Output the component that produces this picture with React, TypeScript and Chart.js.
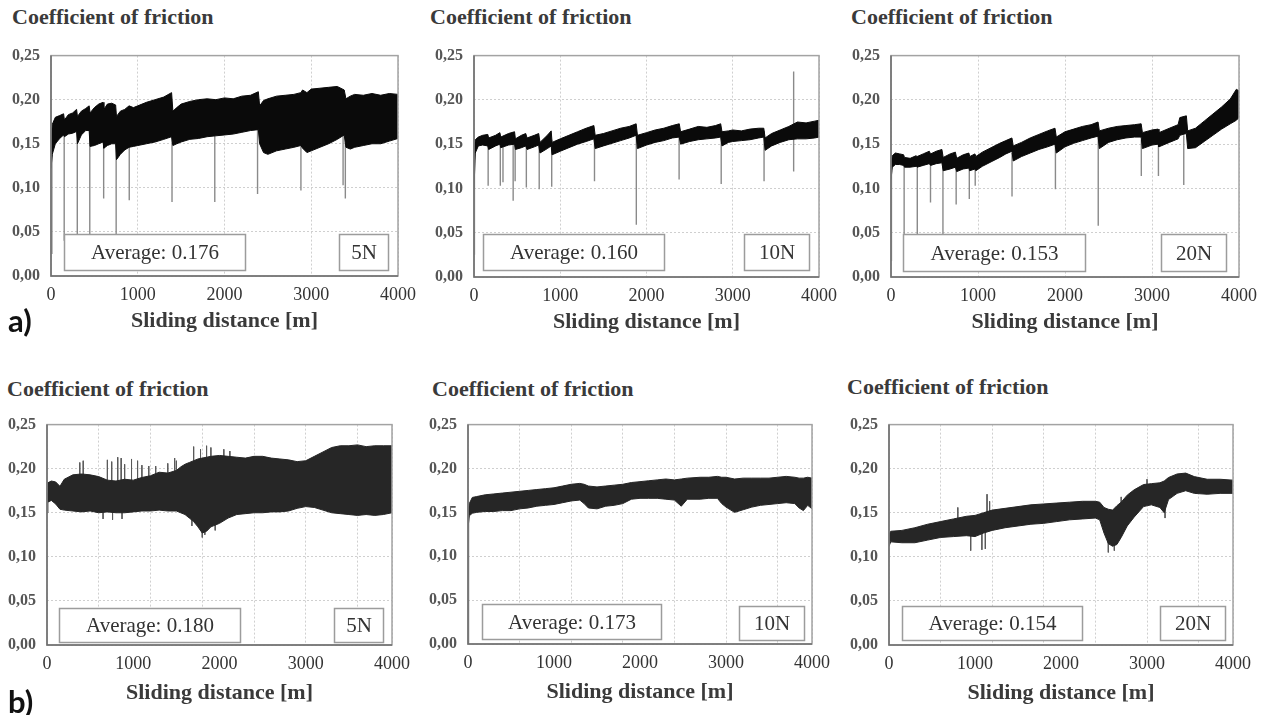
import React, { useEffect, useRef } from 'react';
import { Chart, registerables } from 'chart.js';
Chart.register(...registerables);

// ---------- shared axis content ----------
const X_TICKS = [0, 1000, 2000, 3000, 4000];
const X_GRID_TOP = [0, 1000, 2000, 3000, 4000];
const X_GRID_BOTTOM = [0, 600, 1200, 1800, 2400, 3000, 3600, 4000];
const Y_TICKS = [0, 0.05, 0.1, 0.15, 0.2, 0.25];
const Y_TICK_LABELS = ['0,00', '0,05', '0,10', '0,15', '0,20', '0,25'];
const Y_TITLE = 'Coefficient of friction';
const X_TITLE = 'Sliding distance [m]';
const LOADS = ['5N', '10N', '20N'];
const AVERAGES_A = ['0.176', '0.160', '0.153'];
const AVERAGES_B = ['0.180', '0.173', '0.154'];

// ---------- a) 5N ----------
const A5_X = [
  0, 15, 50, 100, 145, 155, 200, 250, 295, 305,
  350, 400, 440, 450, 500, 550, 600, 610, 650, 700,
  745, 755, 800, 850, 900, 950, 1000, 1100, 1200, 1300,
  1390, 1405, 1450, 1500, 1600, 1700, 1800, 1900, 2000, 2100,
  2200, 2300, 2390, 2405, 2450, 2500, 2600, 2700, 2800, 2880,
  2900, 2950, 3000, 3100, 3200, 3300, 3380, 3400, 3450, 3500,
  3600, 3700, 3800, 3900, 4000,
];
const A5_HI = [
  0.150, 0.172, 0.180, 0.182, 0.184, 0.177, 0.183, 0.185, 0.189, 0.181,
  0.187, 0.190, 0.193, 0.185, 0.191, 0.195, 0.197, 0.189, 0.195, 0.196,
  0.194, 0.181, 0.187, 0.189, 0.193, 0.191, 0.193, 0.197, 0.200, 0.203,
  0.208, 0.187, 0.191, 0.195, 0.198, 0.200, 0.201, 0.200, 0.202, 0.201,
  0.204, 0.205, 0.209, 0.193, 0.199, 0.201, 0.204, 0.205, 0.206, 0.208,
  0.211, 0.208, 0.212, 0.213, 0.214, 0.215, 0.211, 0.201, 0.204, 0.206,
  0.205, 0.207, 0.205, 0.207, 0.206,
];
const A5_LO = [
  0.122, 0.138, 0.150, 0.156, 0.160, 0.158, 0.161, 0.162, 0.164, 0.150,
  0.160, 0.165, 0.165, 0.147, 0.148, 0.150, 0.152, 0.145, 0.148, 0.150,
  0.150, 0.132, 0.138, 0.143, 0.146, 0.147, 0.148, 0.150, 0.152, 0.155,
  0.158, 0.148, 0.150, 0.152, 0.155, 0.156, 0.158, 0.159, 0.160, 0.161,
  0.163, 0.165, 0.166, 0.150, 0.140, 0.138, 0.142, 0.144, 0.146, 0.148,
  0.145, 0.140, 0.142, 0.146, 0.150, 0.155, 0.160, 0.146, 0.144, 0.146,
  0.148, 0.150, 0.150, 0.153, 0.156,
];
const A5_SPIKE_X = [10, 152, 303, 447, 607, 751, 902, 1395, 1888, 2381, 2881, 3367, 3393];
const A5_SPIKE_TOP = [0.15, 0.17, 0.17, 0.17, 0.16, 0.16, 0.16, 0.17, 0.17, 0.17, 0.17, 0.17, 0.17];
const A5_SPIKE_LOW = [0.025, 0.04, 0.04, 0.04, 0.088, 0.04, 0.086, 0.084, 0.084, 0.093, 0.097, 0.103, 0.088];

// ---------- a) 10N ----------
const A10_X = [
  0, 15, 50, 100, 160, 170, 250, 300, 310, 400,
  470, 480, 550, 600, 615, 700, 750, 765, 850, 895,
  905, 1000, 1100, 1200, 1300, 1390, 1405, 1500, 1600, 1700,
  1800, 1880, 1895, 2000, 2100, 2200, 2300, 2380, 2395, 2500,
  2600, 2700, 2800, 2860, 2875, 2950, 3000, 3100, 3200, 3300,
  3360, 3375, 3450, 3550, 3650, 3750, 3850, 3950, 4000,
];
const A10_HI = [
  0.140, 0.155, 0.158, 0.160, 0.161, 0.157, 0.160, 0.163, 0.158, 0.162,
  0.164, 0.156, 0.160, 0.162, 0.157, 0.160, 0.162, 0.152, 0.160, 0.165,
  0.152, 0.156, 0.160, 0.164, 0.168, 0.171, 0.160, 0.162, 0.165, 0.168,
  0.170, 0.173, 0.160, 0.163, 0.166, 0.168, 0.171, 0.173, 0.164, 0.167,
  0.170, 0.169, 0.171, 0.173, 0.164, 0.165, 0.166, 0.165, 0.167, 0.168,
  0.168, 0.157, 0.162, 0.166, 0.170, 0.175, 0.174, 0.176, 0.177,
];
const A10_LO = [
  0.100, 0.140, 0.148, 0.149, 0.148, 0.144, 0.148, 0.150, 0.146, 0.149,
  0.150, 0.144, 0.146, 0.148, 0.144, 0.147, 0.149, 0.140, 0.145, 0.148,
  0.138, 0.142, 0.146, 0.150, 0.153, 0.156, 0.145, 0.148, 0.151, 0.154,
  0.157, 0.160, 0.145, 0.149, 0.152, 0.154, 0.157, 0.158, 0.150, 0.153,
  0.155, 0.156, 0.157, 0.158, 0.148, 0.152, 0.153, 0.154, 0.155, 0.157,
  0.158, 0.143, 0.148, 0.152, 0.155, 0.156, 0.156, 0.157, 0.158,
];
const A10_SPIKE_X = [5, 164, 305, 336, 454, 477, 607, 756, 901, 1397, 1882, 2378, 2866, 3363, 3706];
const A10_SPIKE_TOP = [0.14, 0.155, 0.155, 0.155, 0.155, 0.155, 0.155, 0.155, 0.155, 0.16, 0.165, 0.165, 0.165, 0.165, 0.232];
const A10_SPIKE_LOW = [0.025, 0.103, 0.103, 0.107, 0.086, 0.108, 0.101, 0.099, 0.102, 0.108, 0.059, 0.11, 0.105, 0.108, 0.119];

// ---------- a) 20N ----------
const A20_X = [
  0, 15, 50, 100, 145, 155, 220, 290, 300, 370,
  440, 455, 520, 585, 600, 680, 740, 755, 830, 895,
  905, 965, 975, 1050, 1150, 1250, 1320, 1390, 1405, 1500,
  1600, 1700, 1800, 1885, 1900, 2000, 2100, 2200, 2300, 2380,
  2395, 2500, 2600, 2700, 2800, 2875, 2890, 3000, 3070, 3080,
  3200, 3300, 3320, 3395, 3410, 3500, 3600, 3700, 3800, 3900,
  3970, 4000,
];
const A20_HI = [
  0.125, 0.137, 0.140, 0.139, 0.138, 0.135, 0.134, 0.137, 0.136, 0.139,
  0.142, 0.139, 0.142, 0.144, 0.135, 0.139, 0.141, 0.134, 0.138, 0.140,
  0.136, 0.139, 0.136, 0.141, 0.146, 0.151, 0.154, 0.157, 0.148, 0.152,
  0.157, 0.161, 0.165, 0.168, 0.158, 0.164, 0.167, 0.170, 0.172, 0.175,
  0.165, 0.168, 0.170, 0.171, 0.172, 0.173, 0.163, 0.166, 0.167, 0.163,
  0.168, 0.172, 0.180, 0.182, 0.165, 0.168, 0.176, 0.184, 0.192, 0.201,
  0.212, 0.210,
];
const A20_LO = [
  0.110, 0.124, 0.127, 0.127, 0.126, 0.124, 0.124, 0.125, 0.124, 0.126,
  0.128, 0.126, 0.128, 0.129, 0.120, 0.122, 0.124, 0.119, 0.122, 0.123,
  0.120, 0.122, 0.120, 0.125, 0.130, 0.135, 0.139, 0.142, 0.131, 0.136,
  0.140, 0.144, 0.147, 0.150, 0.140, 0.147, 0.151, 0.154, 0.157, 0.159,
  0.145, 0.152, 0.155, 0.157, 0.158, 0.158, 0.145, 0.149, 0.150, 0.147,
  0.152, 0.156, 0.160, 0.162, 0.145, 0.146, 0.153, 0.160, 0.167, 0.173,
  0.177, 0.180,
];
const A20_SPIKE_X = [5, 151, 302, 454, 597, 749, 900, 968, 1391, 1890, 2382, 2877, 3074, 3365];
const A20_SPIKE_TOP = [0.12, 0.13, 0.13, 0.135, 0.135, 0.13, 0.13, 0.13, 0.14, 0.15, 0.16, 0.155, 0.155, 0.16];
const A20_SPIKE_LOW = [0.018, 0.04, 0.04, 0.084, 0.04, 0.082, 0.088, 0.103, 0.091, 0.099, 0.058, 0.114, 0.114, 0.104];

// ---------- b) 5N ----------
const B5_X = [
  0, 10, 50, 100, 150, 200, 300, 400, 500, 600,
  700, 800, 900, 1000, 1100, 1200, 1300, 1400, 1500, 1550,
  1600, 1650, 1700, 1750, 1800, 1850, 1900, 2000, 2100, 2200,
  2300, 2400, 2500, 2600, 2700, 2800, 2900, 3000, 3100, 3200,
  3300, 3400, 3500, 3600, 3700, 3800, 3900, 4000,
];
const B5_HI = [
  0.172, 0.184, 0.186, 0.185, 0.180, 0.188, 0.193, 0.194, 0.193, 0.191,
  0.187, 0.186, 0.188, 0.187, 0.190, 0.192, 0.196, 0.195, 0.198, 0.202,
  0.205, 0.207, 0.209, 0.211, 0.212, 0.213, 0.214, 0.215, 0.214, 0.213,
  0.212, 0.214, 0.214, 0.212, 0.211, 0.210, 0.208, 0.209, 0.214, 0.219,
  0.224, 0.226, 0.226, 0.227, 0.225, 0.226, 0.226, 0.226,
];
const B5_LO = [
  0.150, 0.162, 0.164, 0.160, 0.154, 0.153, 0.152, 0.151, 0.152, 0.150,
  0.151, 0.150, 0.150, 0.151, 0.152, 0.152, 0.153, 0.152, 0.152, 0.150,
  0.148, 0.144, 0.140, 0.134, 0.127, 0.129, 0.134, 0.138, 0.144, 0.148,
  0.149, 0.150, 0.150, 0.151, 0.151, 0.152, 0.155, 0.157, 0.156, 0.153,
  0.150, 0.149, 0.148, 0.147, 0.148, 0.147, 0.148, 0.150,
];
const B5_SPIKE_X = [380, 420, 650, 700, 750, 760, 820, 860, 870, 900, 980, 1050, 1100, 1180, 1260, 1400, 1480, 1500, 1680, 1700, 1780, 1800, 1830, 1850, 1900, 1950, 2050, 2120];
const B5_SPIKE_TOP = [0.207, 0.209, 0.17, 0.21, 0.208, 0.17, 0.213, 0.212, 0.17, 0.205, 0.211, 0.209, 0.204, 0.203, 0.203, 0.206, 0.212, 0.209, 0.17, 0.225, 0.222, 0.17, 0.17, 0.226, 0.224, 0.17, 0.222, 0.22];
const B5_SPIKE_LOW = [0.17, 0.17, 0.143, 0.17, 0.17, 0.142, 0.17, 0.17, 0.143, 0.17, 0.17, 0.17, 0.17, 0.17, 0.17, 0.17, 0.17, 0.17, 0.135, 0.17, 0.17, 0.122, 0.125, 0.17, 0.17, 0.13, 0.17, 0.17];

// ---------- b) 10N ----------
const B10_X = [
  0, 15, 50, 100, 200, 300, 400, 500, 600, 700,
  800, 900, 1000, 1100, 1200, 1300, 1350, 1400, 1500, 1600,
  1700, 1800, 1900, 2000, 2100, 2200, 2300, 2400, 2480, 2550,
  2700, 2800, 2900, 2950, 3000, 3100, 3200, 3300, 3400, 3500,
  3600, 3700, 3800, 3850, 3900, 3950, 4000,
];
const B10_HI = [
  0.145, 0.160, 0.167, 0.168, 0.170, 0.171, 0.172, 0.173, 0.174, 0.175,
  0.176, 0.177, 0.178, 0.180, 0.182, 0.183, 0.182, 0.180, 0.179, 0.180,
  0.181, 0.182, 0.184, 0.185, 0.186, 0.187, 0.188, 0.187, 0.188, 0.189,
  0.190, 0.190, 0.191, 0.190, 0.190, 0.188, 0.189, 0.189, 0.189, 0.189,
  0.190, 0.191, 0.190, 0.189, 0.189, 0.190, 0.189,
];
const B10_LO = [
  0.132, 0.146, 0.149, 0.150, 0.151, 0.151, 0.152, 0.152, 0.154, 0.155,
  0.157, 0.158, 0.159, 0.161, 0.163, 0.164, 0.160, 0.155, 0.154, 0.157,
  0.158, 0.160, 0.165, 0.166, 0.166, 0.166, 0.165, 0.164, 0.157, 0.165,
  0.165, 0.166, 0.166, 0.160, 0.156, 0.150, 0.153, 0.156, 0.158, 0.159,
  0.160, 0.161, 0.160, 0.155, 0.152, 0.158, 0.154,
];
const B10_SPIKE_X = [5];
const B10_SPIKE_TOP = [0.15];
const B10_SPIKE_LOW = [0.0];

// ---------- b) 20N ----------
const B20_X = [
  0, 20, 150, 300, 450, 600, 750, 900, 1000, 1100,
  1200, 1350, 1500, 1650, 1800, 1950, 2100, 2250, 2400, 2450,
  2500, 2550, 2600, 2650, 2700, 2770, 2850, 2960, 3050, 3150,
  3200, 3250, 3350, 3450, 3550, 3700, 3850, 4000,
];
const B20_HI = [
  0.125, 0.129, 0.130, 0.133, 0.137, 0.140, 0.143, 0.146, 0.147, 0.150,
  0.153, 0.155, 0.157, 0.159, 0.160, 0.161, 0.162, 0.163, 0.163, 0.162,
  0.156, 0.154, 0.153, 0.158, 0.162, 0.170, 0.176, 0.182, 0.183, 0.184,
  0.186, 0.190, 0.194, 0.195, 0.191, 0.188, 0.188, 0.187,
];
const B20_LO = [
  0.112, 0.117, 0.116, 0.116, 0.119, 0.122, 0.123, 0.124, 0.123, 0.127,
  0.130, 0.133, 0.135, 0.137, 0.138, 0.140, 0.142, 0.143, 0.144, 0.142,
  0.127, 0.115, 0.112, 0.114, 0.122, 0.135, 0.145, 0.157, 0.159, 0.156,
  0.150, 0.165, 0.172, 0.175, 0.172, 0.171, 0.172, 0.172,
];
const B20_SPIKE_X = [800, 950, 1080, 1120, 1140, 1170, 2550, 2620, 2700, 3000, 3210];
const B20_SPIKE_TOP = [0.156, 0.125, 0.13, 0.13, 0.171, 0.163, 0.13, 0.13, 0.168, 0.188, 0.16];
const B20_SPIKE_LOW = [0.135, 0.107, 0.108, 0.109, 0.14, 0.14, 0.105, 0.107, 0.14, 0.17, 0.144];

// ---------- layout ----------
const W_Y = 50;
const PAD_T = 15;
const PAD_R = 22;
const SERIF = '"Liberation Serif", "Times New Roman", serif';

type Box = { x0: number; x1: number; y0: number; y1: number; text: string };
type PanelCfg = {
  plot: [number, number, number, number];
  title: [number, number];
  hx: number;
  x: number[]; hi: number[]; lo: number[];
  sx: number[]; st: number[]; sl: number[];
  band: string; spike: string; spikeW: number;
  grid: number[];
  boxes: Box[];
};

const PANELS: PanelCfg[] = [
  {
    plot: [51, 50, 402, 276], title: [12, 4], hx: 59,
    x: A5_X, hi: A5_HI, lo: A5_LO, sx: A5_SPIKE_X, st: A5_SPIKE_TOP, sl: A5_SPIKE_LOW,
    band: '#0a0a0a', spike: '#8a8a8a', spikeW: 1.4, grid: X_GRID_TOP,
    boxes: [
      { x0: 148, x1: 2234, y0: 0.0066, y1: 0.0476, text: 'Average: ' + AVERAGES_A[0] },
      { x0: 3316, x1: 3886, y0: 0.0066, y1: 0.0476, text: LOADS[0] },
    ],
  },
  {
    plot: [474, 50, 823, 277], title: [430, 4], hx: 59,
    x: A10_X, hi: A10_HI, lo: A10_LO, sx: A10_SPIKE_X, st: A10_SPIKE_TOP, sl: A10_SPIKE_LOW,
    band: '#0a0a0a', spike: '#8a8a8a', spikeW: 1.4, grid: X_GRID_TOP,
    boxes: [
      { x0: 103, x1: 2200, y0: 0.0077, y1: 0.0485, text: 'Average: ' + AVERAGES_A[1] },
      { x0: 3129, x1: 3885, y0: 0.0077, y1: 0.0485, text: LOADS[1] },
    ],
  },
  {
    plot: [891, 50, 1243, 277], title: [851, 4], hx: 59,
    x: A20_X, hi: A20_HI, lo: A20_LO, sx: A20_SPIKE_X, st: A20_SPIKE_TOP, sl: A20_SPIKE_LOW,
    band: '#0a0a0a', spike: '#8a8a8a', spikeW: 1.4, grid: X_GRID_TOP,
    boxes: [
      { x0: 136, x1: 2227, y0: 0.0066, y1: 0.0485, text: 'Average: ' + AVERAGES_A[2] },
      { x0: 3102, x1: 3852, y0: 0.0066, y1: 0.0485, text: LOADS[2] },
    ],
  },
  {
    plot: [47, 419, 396, 645], title: [7, 376], hx: 62,
    x: B5_X, hi: B5_HI, lo: B5_LO, sx: B5_SPIKE_X, st: B5_SPIKE_TOP, sl: B5_SPIKE_LOW,
    band: '#262626', spike: '#5a5a5a', spikeW: 1, grid: X_GRID_BOTTOM,
    boxes: [
      { x0: 138, x1: 2235, y0: 0.0033, y1: 0.042, text: 'Average: ' + AVERAGES_B[0] },
      { x0: 3324, x1: 3897, y0: 0.0033, y1: 0.042, text: LOADS[0] },
    ],
  },
  {
    plot: [468, 419, 816, 644], title: [432, 376], hx: 62,
    x: B10_X, hi: B10_HI, lo: B10_LO, sx: B10_SPIKE_X, st: B10_SPIKE_TOP, sl: B10_SPIKE_LOW,
    band: '#262626', spike: '#5a5a5a', spikeW: 1.5, grid: X_GRID_BOTTOM,
    boxes: [
      { x0: 161, x1: 2241, y0: 0.0055, y1: 0.0455, text: 'Average: ' + AVERAGES_B[1] },
      { x0: 3149, x1: 3908, y0: 0.0044, y1: 0.043, text: LOADS[1] },
    ],
  },
  {
    plot: [889, 419, 1237, 645], title: [847, 374], hx: 62,
    x: B20_X, hi: B20_HI, lo: B20_LO, sx: B20_SPIKE_X, st: B20_SPIKE_TOP, sl: B20_SPIKE_LOW,
    band: '#262626', spike: '#5a5a5a', spikeW: 1, grid: X_GRID_BOTTOM,
    boxes: [
      { x0: 149, x1: 2241, y0: 0.0055, y1: 0.0443, text: 'Average: ' + AVERAGES_B[2] },
      { x0: 3149, x1: 3908, y0: 0.0055, y1: 0.0443, text: LOADS[2] },
    ],
  },
];

const overlayPlugin = {
  id: 'overlay',
  afterDatasetsDraw(chart: any, _args: any, opts: any) {
    const { ctx, chartArea: a, scales } = chart;
    const xs = scales.x;
    const ys = scales.y;
    ctx.save();
    ctx.setLineDash([]);
    ctx.lineWidth = 1.5;
    ctx.strokeStyle = '#a3a3a3';
    ctx.strokeRect(a.left, a.top, a.right - a.left, a.bottom - a.top);
    ctx.strokeStyle = '#6e6e6e';
    ctx.beginPath();
    ctx.moveTo(a.left, a.top);
    ctx.lineTo(a.left, a.bottom);
    ctx.lineTo(a.right, a.bottom);
    ctx.stroke();
    const boxes: Box[] = opts.boxes || [];
    for (const b of boxes) {
      const x0 = Math.round(xs.getPixelForValue(b.x0)) + 0.5;
      const x1 = Math.round(xs.getPixelForValue(b.x1)) + 0.5;
      const y0 = Math.round(ys.getPixelForValue(b.y1)) + 0.5;
      const y1 = Math.round(ys.getPixelForValue(b.y0)) + 0.5;
      ctx.fillStyle = '#ffffff';
      ctx.fillRect(x0, y0, x1 - x0, y1 - y0);
      ctx.strokeStyle = '#9c9c9c';
      ctx.lineWidth = 1.5;
      ctx.strokeRect(x0, y0, x1 - x0, y1 - y0);
      ctx.fillStyle = '#333333';
      ctx.font = '21px ' + SERIF;
      ctx.textAlign = 'center';
      ctx.textBaseline = 'middle';
      ctx.fillText(b.text, (x0 + x1) / 2, (y0 + y1) / 2 + 1);
    }
    ctx.restore();
  },
};

function spikePoints(xs: number[], tops: number[], lows: number[]) {
  const pts: { x: number; y: number | null }[] = [];
  xs.forEach((x, i) => {
    pts.push({ x, y: tops[i] });
    pts.push({ x, y: lows[i] });
    pts.push({ x, y: null });
  });
  return pts;
}

function Panel({ p }: { p: PanelCfg }) {
  const ref = useRef<HTMLCanvasElement>(null);
  const [L, T, R, B] = p.plot;
  const cw = R - L + W_Y + PAD_R;
  const ch = B - T + PAD_T + p.hx;
  const bottomGrid = p.grid !== X_GRID_TOP;

  useEffect(() => {
    const bandLo = p.x.map((x, i) => ({ x, y: p.lo[i] }));
    const bandHi = p.x.map((x, i) => ({ x, y: p.hi[i] }));
    const gridCommon = { color: '#cfcfcf', lineWidth: 1, drawTicks: false };
    const chart = new Chart(ref.current!, {
      type: 'line',
      data: {
        datasets: [
          { data: bandLo, borderColor: p.band, borderWidth: 1, pointRadius: 0, fill: false, tension: 0 },
          { data: bandHi, borderColor: p.band, backgroundColor: p.band, borderWidth: 1, pointRadius: 0, fill: '-1', tension: 0 },
          { data: spikePoints(p.sx, p.st, p.sl), borderColor: p.spike, borderWidth: p.spikeW, pointRadius: 0, fill: false, spanGaps: false },
        ],
      },
      options: {
        animation: false,
        responsive: false,
        events: [],
        layout: { padding: { top: PAD_T, right: PAD_R, left: 0, bottom: 0 } },
        plugins: {
          legend: { display: false },
          tooltip: { enabled: false },
          overlay: { boxes: p.boxes },
        } as any,
        scales: {
          x: {
            type: 'linear',
            min: 0,
            max: 4000,
            afterBuildTicks: (s: any) => { s.ticks = X_TICKS.map((v) => ({ value: v })); },
            afterFit: (s: any) => { s.height = p.hx; },
            grid: { ...gridCommon, display: !bottomGrid },
            border: { display: false, dash: [2, 2] },
            ticks: {
              padding: 8,
              maxRotation: 0,
              autoSkip: false,
              color: '#333333',
              font: { family: SERIF, size: 18 },
              callback: (v: any) => String(v),
            },
            title: {
              display: true,
              text: X_TITLE,
              color: '#3a3a3a',
              font: { family: SERIF, size: 22, weight: 'bold' },
              padding: 0,
            },
          },
          xg: {
            type: 'linear',
            position: 'bottom',
            display: bottomGrid,
            min: 0,
            max: 4000,
            afterBuildTicks: (s: any) => { s.ticks = p.grid.map((v) => ({ value: v })); },
            afterFit: (s: any) => { s.height = 0; },
            grid: { ...gridCommon },
            border: { display: false, dash: [2, 2] },
            ticks: { display: false },
          },
          y: {
            type: 'linear',
            min: 0,
            max: 0.25,
            afterBuildTicks: (s: any) => { s.ticks = Y_TICKS.map((v) => ({ value: v })); },
            afterFit: (s: any) => { s.width = W_Y; },
            grid: { ...gridCommon },
            border: { display: false, dash: [2, 2] },
            ticks: {
              padding: 11,
              color: '#555555',
              font: { family: SERIF, size: 16, weight: 'bold' },
              callback: (v: any) => {
                const i = Y_TICKS.findIndex((t) => Math.abs(t - Number(v)) < 1e-9);
                return i >= 0 ? Y_TICK_LABELS[i] : '';
              },
            },
          },
        },
      } as any,
      plugins: [overlayPlugin],
    });
    return () => chart.destroy();
  }, []);

  return (
    <>
      <div
        style={{
          position: 'absolute',
          left: p.title[0],
          top: p.title[1],
          font: 'bold 22px ' + SERIF,
          lineHeight: '26px',
          color: '#3a3a3a',
          whiteSpace: 'nowrap',
        }}
      >
        {Y_TITLE}
      </div>
      <canvas
        ref={ref}
        width={cw}
        height={ch}
        style={{ position: 'absolute', left: L - W_Y, top: T - PAD_T, width: cw, height: ch }}
      />
    </>
  );
}

export default function App() {
  return (
    <div
      style={{
        position: 'fixed',
        left: 0,
        top: 0,
        width: 1267,
        height: 715,
        background: '#ffffff',
        overflow: 'hidden',
      }}
    >
      {PANELS.map((p, i) => (
        <Panel key={i} p={p} />
      ))}
      <div style={{ position: 'absolute', left: 8, top: 302, font: 'bold 31px Lato, "Open Sans", sans-serif', lineHeight: '36px', color: '#111' }}>a)</div>
      <div style={{ position: 'absolute', left: 8, top: 683, font: 'bold 31px Lato, "Open Sans", sans-serif', lineHeight: '36px', color: '#111' }}>b)</div>
    </div>
  );
}
